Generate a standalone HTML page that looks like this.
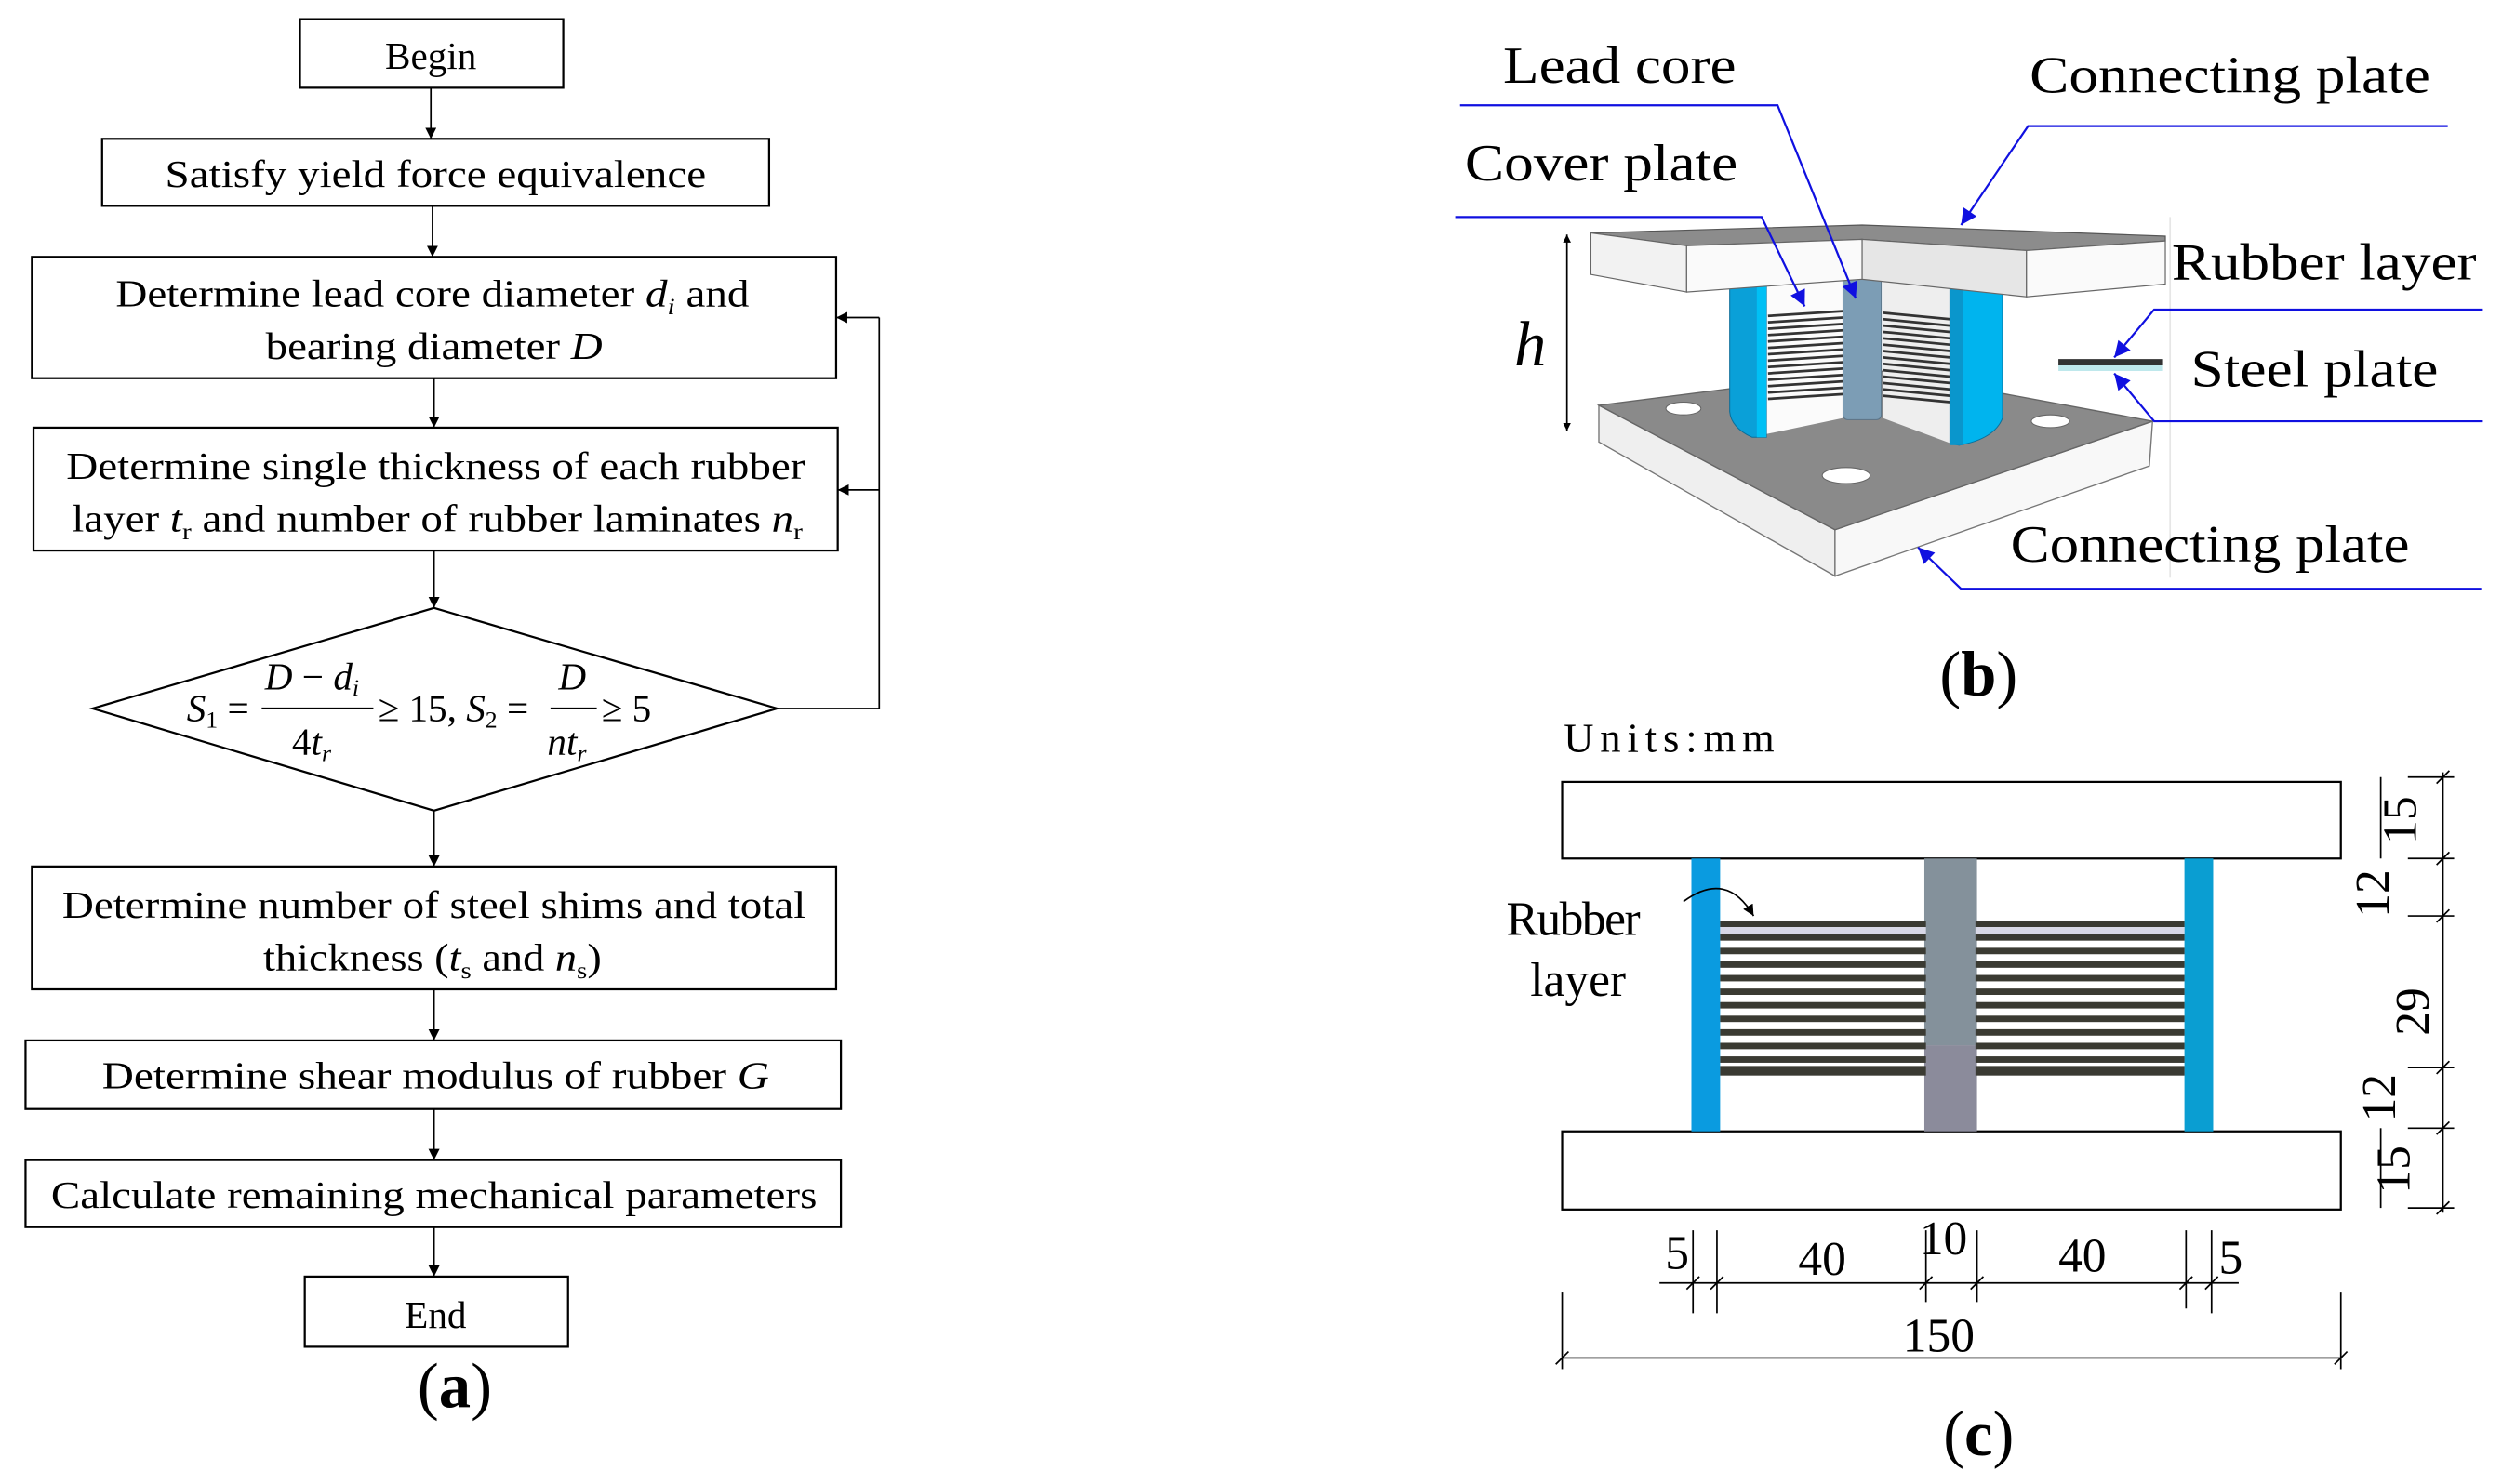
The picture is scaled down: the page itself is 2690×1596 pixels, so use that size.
<!DOCTYPE html>
<html><head><meta charset="utf-8"><style>html,body{margin:0;padding:0;background:#fff}svg{display:block}svg text{font-family:"Liberation Serif","Times New Roman",serif}</style></head>
<body>
<svg width="2690" height="1596" viewBox="0 0 1568 930" preserveAspectRatio="none" xmlns="http://www.w3.org/2000/svg" style="font-family:'Liberation Serif',serif">
<defs>
<marker id="ar" viewBox="0 0 10 10" refX="10" refY="5" markerWidth="7" markerHeight="7" orient="auto-start-reverse" markerUnits="userSpaceOnUse"><path d="M0,0 L10,5 L0,10 z" fill="#000"/></marker>
<marker id="ab" viewBox="0 0 10 10" refX="10" refY="5" markerWidth="12" markerHeight="10" orient="auto" markerUnits="userSpaceOnUse"><path d="M0,0 L10,5 L0,10 z" fill="#1010e0"/></marker>
<marker id="ak" viewBox="0 0 10 10" refX="10" refY="5" markerWidth="5" markerHeight="6" orient="auto-start-reverse" markerUnits="userSpaceOnUse"><path d="M0,0 L10,5 L0,10 z" fill="#000"/></marker>
</defs>
<rect width="1568" height="930" fill="#fff"/>

<!-- ===== (a) flowchart ===== -->
<g fill="none" stroke="#000" stroke-width="1.3">
<rect x="188" y="12" width="165" height="43"/>
<rect x="64" y="87" width="418" height="42"/>
<rect x="20" y="161" width="504" height="76"/>
<rect x="21" y="268" width="504" height="77"/>
<polygon points="272,381 487,444 272,508 58,444"/>
<rect x="20" y="543" width="504" height="77"/>
<rect x="16" y="652" width="511" height="43"/>
<rect x="16" y="727" width="511" height="42"/>
<rect x="191" y="800" width="165" height="44"/>
</g>
<g stroke="#000" stroke-width="1" fill="none" marker-end="url(#ar)">
<line x1="270" y1="55" x2="270" y2="87"/>
<line x1="271" y1="129" x2="271" y2="161"/>
<line x1="272" y1="237" x2="272" y2="268"/>
<line x1="272" y1="345" x2="272" y2="381"/>
<line x1="272" y1="508" x2="272" y2="543"/>
<line x1="272" y1="620" x2="272" y2="652"/>
<line x1="272" y1="695" x2="272" y2="727"/>
<line x1="272" y1="769" x2="272" y2="800"/>
<line x1="551" y1="199" x2="524" y2="199"/>
<line x1="551" y1="307" x2="525" y2="307"/>
</g>
<polyline points="487,444 551,444 551,199" fill="none" stroke="#000" stroke-width="1"/>

<g font-size="24" fill="#000" text-anchor="middle">
<text x="270" y="43">Begin</text>
<text x="273" y="117" textLength="339" lengthAdjust="spacingAndGlyphs">Satisfy yield force equivalence</text>
<text x="271" y="192" textLength="397" lengthAdjust="spacingAndGlyphs">Determine lead core diameter <tspan font-style="italic">d</tspan><tspan font-style="italic" font-size="15" dy="5">i</tspan><tspan dy="-5"> and</tspan></text>
<text x="272" y="225" textLength="211" lengthAdjust="spacingAndGlyphs">bearing diameter <tspan font-style="italic">D</tspan></text>
<text x="273" y="300" textLength="463" lengthAdjust="spacingAndGlyphs">Determine single thickness of each rubber</text>
<text x="274" y="333" textLength="458" lengthAdjust="spacingAndGlyphs">layer <tspan font-style="italic">t</tspan><tspan font-size="15" dy="5">r</tspan><tspan dy="-5"> and number of rubber laminates </tspan><tspan font-style="italic">n</tspan><tspan font-size="15" dy="5">r</tspan></text>
<text x="272" y="575" textLength="466" lengthAdjust="spacingAndGlyphs">Determine number of steel shims and total</text>
<text x="271" y="608" textLength="212" lengthAdjust="spacingAndGlyphs">thickness (<tspan font-style="italic">t</tspan><tspan font-size="15" dy="5">s</tspan><tspan dy="-5"> and </tspan><tspan font-style="italic">n</tspan><tspan font-size="15" dy="5">s</tspan><tspan dy="-5">)</tspan></text>
<text x="273" y="682" textLength="418" lengthAdjust="spacingAndGlyphs">Determine shear modulus of rubber <tspan font-style="italic">G</tspan></text>
<text x="272" y="757" textLength="480" lengthAdjust="spacingAndGlyphs">Calculate remaining mechanical parameters</text>
<text x="273" y="832">End</text>
</g>
<!-- formula -->
<g font-size="24" fill="#000">
<text x="117" y="452"><tspan font-style="italic">S</tspan><tspan font-size="15" dy="4">1</tspan><tspan dy="-4"> =</tspan></text>
<line x1="164" y1="444" x2="234" y2="444" stroke="#000" stroke-width="1.2"/>
<text x="166" y="432"><tspan font-style="italic">D</tspan> − <tspan font-style="italic">d</tspan><tspan font-style="italic" font-size="15" dy="4">i</tspan></text>
<text x="183" y="473">4<tspan font-style="italic">t</tspan><tspan font-style="italic" font-size="15" dy="4">r</tspan></text>
<text x="237" y="452">≥ 15, <tspan font-style="italic">S</tspan><tspan font-size="15" dy="4">2</tspan><tspan dy="-4"> =</tspan></text>
<line x1="345" y1="444" x2="374" y2="444" stroke="#000" stroke-width="1.2"/>
<text x="350" y="432" font-style="italic">D</text>
<text x="343" y="473" font-style="italic">nt<tspan font-size="15" dy="4">r</tspan></text>
<text x="377" y="452">≥ 5</text>
</g>
<text x="285" y="882" font-size="40" text-anchor="middle" fill="#000">(<tspan font-weight="bold">a</tspan>)</text>

<!-- ===== (b) 3D bearing ===== -->
<line x1="1360" y1="136" x2="1360" y2="362" stroke="#e6e6e6" stroke-width="1"/>
<polygon points="1002,254 1150,332 1150,361 1002,277" fill="#efefef" stroke="#777" stroke-width="0.8"/>
<polygon points="1150,332 1349,264 1347,292 1150,361" fill="#f8f8f8" stroke="#777" stroke-width="0.8"/>
<polygon points="1002,254 1176,232 1349,264 1150,332" fill="#8a8a8a" stroke="#666" stroke-width="0.8"/>
<ellipse cx="1055" cy="256" rx="11" ry="4" fill="#fff" stroke="#666" stroke-width="0.6"/>
<ellipse cx="1157" cy="298" rx="15" ry="5" fill="#fff" stroke="#666" stroke-width="0.6"/>
<ellipse cx="1285" cy="264" rx="12" ry="4" fill="#fff" stroke="#666" stroke-width="0.6"/>
<polygon points="1107,175 1155,173 1155,262 1107,272" fill="#fbfbfb"/>
<polygon points="1180,173 1223,178 1223,278 1180,262" fill="#eeeeee"/>
<g stroke="#333" stroke-width="1.6">
<line x1="1108" y1="198" x2="1155" y2="195"/><line x1="1108" y1="202" x2="1155" y2="199"/><line x1="1108" y1="206" x2="1155" y2="203"/><line x1="1108" y1="210" x2="1155" y2="207"/><line x1="1108" y1="214" x2="1155" y2="211"/><line x1="1108" y1="218" x2="1155" y2="215"/><line x1="1108" y1="222" x2="1155" y2="219"/><line x1="1108" y1="226" x2="1155" y2="223"/><line x1="1108" y1="230" x2="1155" y2="227"/><line x1="1108" y1="234" x2="1155" y2="231"/><line x1="1108" y1="238" x2="1155" y2="235"/><line x1="1108" y1="242" x2="1155" y2="239"/><line x1="1108" y1="246" x2="1155" y2="243"/><line x1="1108" y1="250" x2="1155" y2="247"/>
<line x1="1180" y1="196" x2="1222" y2="200"/><line x1="1180" y1="200" x2="1222" y2="204"/><line x1="1180" y1="204" x2="1222" y2="208"/><line x1="1180" y1="208" x2="1222" y2="212"/><line x1="1180" y1="212" x2="1222" y2="216"/><line x1="1180" y1="216" x2="1222" y2="220"/><line x1="1180" y1="220" x2="1222" y2="224"/><line x1="1180" y1="224" x2="1222" y2="228"/><line x1="1180" y1="228" x2="1222" y2="232"/><line x1="1180" y1="232" x2="1222" y2="236"/><line x1="1180" y1="236" x2="1222" y2="240"/><line x1="1180" y1="240" x2="1222" y2="244"/><line x1="1180" y1="244" x2="1222" y2="248"/><line x1="1180" y1="248" x2="1222" y2="252"/>
</g>
<rect x="1155" y="172" width="24" height="91" rx="3" fill="#7c9db5" stroke="#5a7488" stroke-width="0.6"/>
<path d="M1084,179 L1107,178 L1107,274 L1098,274 Q1085,268 1084,258 Z" fill="#0aa0d8" stroke="#0b6f9a" stroke-width="0.6"/>
<rect x="1101" y="178" width="6" height="96" fill="#00c0f5"/>
<path d="M1222,180 L1255,182 L1255,262 Q1250,275 1228,279 L1222,278 Z" fill="#00b4ee" stroke="#0b6f9a" stroke-width="0.6"/>
<rect x="1222" y="180" width="8" height="99" fill="#0a96cc"/>
<polygon points="997,146 1167,141 1357,148 1357,151 1270,157 1167,150 1057,154" fill="#8c8c8c" stroke="#555" stroke-width="0.7"/>
<polygon points="997,146 1057,154 1057,183 997,172" fill="#f2f2f2" stroke="#666" stroke-width="0.7"/>
<polygon points="1057,154 1167,150 1167,175 1057,183" fill="#fafafa" stroke="#666" stroke-width="0.7"/>
<polygon points="1167,150 1270,157 1270,186 1167,175" fill="#e6e6e6" stroke="#666" stroke-width="0.7"/>
<polygon points="1270,157 1357,151 1357,178 1270,186" fill="#fafafa" stroke="#666" stroke-width="0.7"/>
<rect x="1290" y="225" width="65" height="4" fill="#333"/>
<rect x="1290" y="229" width="65" height="3.5" fill="#bfe8ec"/>
<line x1="982" y1="147" x2="982" y2="270" stroke="#000" stroke-width="1" marker-start="url(#ak)" marker-end="url(#ak)"/>
<text x="949" y="229" font-size="40" font-style="italic" fill="#000">h</text>
<g fill="none" stroke="#1010e0" stroke-width="1.3" marker-end="url(#ab)">
<polyline points="915,66 1114,66 1163,187"/>
<polyline points="1534,79 1271,79 1229,141"/>
<polyline points="912,136 1104,136 1131,192"/>
<polyline points="1556,194 1350,194 1325,224"/>
<polyline points="1556,264 1350,264 1325,234"/>
<polyline points="1555,369 1229,369 1202,343"/>
</g>
<g font-size="33" fill="#000">
<text x="942" y="52" textLength="146" lengthAdjust="spacingAndGlyphs">Lead core</text>
<text x="1272" y="58" textLength="251" lengthAdjust="spacingAndGlyphs">Connecting plate</text>
<text x="918" y="113" textLength="171" lengthAdjust="spacingAndGlyphs">Cover plate</text>
<text x="1361" y="175" textLength="191" lengthAdjust="spacingAndGlyphs">Rubber layer</text>
<text x="1373" y="242" textLength="155" lengthAdjust="spacingAndGlyphs">Steel plate</text>
<text x="1260" y="352" textLength="250" lengthAdjust="spacingAndGlyphs">Connecting plate</text>
</g>
<text x="1240" y="436" font-size="40" text-anchor="middle" fill="#000">(<tspan font-weight="bold">b</tspan>)</text>

<!-- ===== (c) section ===== -->
<text x="980" y="471" font-size="26" fill="#000" textLength="132" lengthAdjust="spacing">Units:mm</text>
<rect x="979" y="490" width="488" height="48" fill="#fff" stroke="#000" stroke-width="1.3"/>
<rect x="979" y="709" width="488" height="49" fill="#fff" stroke="#000" stroke-width="1.3"/>
<rect x="1060" y="538" width="18" height="171" fill="#0a9be0"/>
<rect x="1369" y="538" width="18" height="171" fill="#0a9ed2"/>
<rect x="1206" y="538" width="33" height="117" fill="#84919b"/>
<rect x="1206" y="655" width="33" height="54" fill="#8b8b9b"/>
<g fill="#3a3a32">
<rect x="1078" y="577" width="129" height="4"/><rect x="1238" y="577" width="131" height="4"/>
<rect x="1078" y="585.5" width="129" height="4"/><rect x="1238" y="585.5" width="131" height="4"/>
<rect x="1078" y="594" width="129" height="4"/><rect x="1238" y="594" width="131" height="4"/>
<rect x="1078" y="602.5" width="129" height="4"/><rect x="1238" y="602.5" width="131" height="4"/>
<rect x="1078" y="611" width="129" height="4"/><rect x="1238" y="611" width="131" height="4"/>
<rect x="1078" y="619.5" width="129" height="4"/><rect x="1238" y="619.5" width="131" height="4"/>
<rect x="1078" y="628" width="129" height="4"/><rect x="1238" y="628" width="131" height="4"/>
<rect x="1078" y="636.5" width="129" height="4"/><rect x="1238" y="636.5" width="131" height="4"/>
<rect x="1078" y="645" width="129" height="4"/><rect x="1238" y="645" width="131" height="4"/>
<rect x="1078" y="653.5" width="129" height="4"/><rect x="1238" y="653.5" width="131" height="4"/>
<rect x="1078" y="662" width="129" height="4"/><rect x="1238" y="662" width="131" height="4"/>
<rect x="1078" y="668" width="129" height="6"/><rect x="1238" y="668" width="131" height="6"/>
</g>
<g fill="#d8d8e6">
<rect x="1078" y="581" width="129" height="4.5"/><rect x="1238" y="581" width="131" height="4.5"/>
</g>
<text x="944" y="586" font-size="30" fill="#000" textLength="84" lengthAdjust="spacing">Rubber</text>
<text x="959" y="624" font-size="30" fill="#000">layer</text>
<path d="M1055,565 Q1082,545 1099,574" fill="none" stroke="#000" stroke-width="1" marker-end="url(#ar)"/>
<g stroke="#000" stroke-width="1" fill="none">
<line x1="1531" y1="484" x2="1531" y2="760"/>
<line x1="1509" y1="487" x2="1538" y2="487"/>
<line x1="1509" y1="538" x2="1538" y2="538"/>
<line x1="1509" y1="574" x2="1538" y2="574"/>
<line x1="1509" y1="669" x2="1538" y2="669"/>
<line x1="1509" y1="707" x2="1538" y2="707"/>
<line x1="1509" y1="757" x2="1538" y2="757"/>
<line x1="1527" y1="491" x2="1535" y2="483"/>
<line x1="1527" y1="542" x2="1535" y2="534"/>
<line x1="1527" y1="578" x2="1535" y2="570"/>
<line x1="1527" y1="673" x2="1535" y2="665"/>
<line x1="1527" y1="711" x2="1535" y2="703"/>
<line x1="1527" y1="761" x2="1535" y2="753"/>
<line x1="1492" y1="487" x2="1492" y2="538"/>
<line x1="1492" y1="707" x2="1492" y2="757"/>
<line x1="1040" y1="804" x2="1403" y2="804"/>
<line x1="1061" y1="771" x2="1061" y2="823"/>
<line x1="1076" y1="771" x2="1076" y2="823"/>
<line x1="1207" y1="771" x2="1207" y2="816"/>
<line x1="1239" y1="771" x2="1239" y2="816"/>
<line x1="1370" y1="771" x2="1370" y2="820"/>
<line x1="1386" y1="771" x2="1386" y2="823"/>
<line x1="979" y1="810" x2="979" y2="858"/>
<line x1="1467" y1="810" x2="1467" y2="858"/>
<line x1="979" y1="851" x2="1467" y2="851"/>
<line x1="1057" y1="808" x2="1065" y2="800"/>
<line x1="1072" y1="808" x2="1080" y2="800"/>
<line x1="1203" y1="808" x2="1211" y2="800"/>
<line x1="1235" y1="808" x2="1243" y2="800"/>
<line x1="1366" y1="808" x2="1374" y2="800"/>
<line x1="1382" y1="808" x2="1390" y2="800"/>
<line x1="975" y1="855" x2="983" y2="847"/>
<line x1="1463" y1="855" x2="1471" y2="847"/>
</g>
<g font-size="30" fill="#000" text-anchor="middle">
<text transform="translate(1514,514) rotate(-90)">15</text>
<text transform="translate(1497,560) rotate(-90)">12</text>
<text transform="translate(1522,634) rotate(-90)">29</text>
<text transform="translate(1501,688) rotate(-90)">12</text>
<text transform="translate(1510,733) rotate(-90)">15</text>
<text x="1051" y="795">5</text>
<text x="1142" y="799">40</text>
<text x="1218" y="786">10</text>
<text x="1305" y="797">40</text>
<text x="1398" y="798">5</text>
<text x="1215" y="847">150</text>
</g>
<text x="1240" y="912" font-size="40" text-anchor="middle" fill="#000">(<tspan font-weight="bold">c</tspan>)</text>
</svg>
</body></html>
